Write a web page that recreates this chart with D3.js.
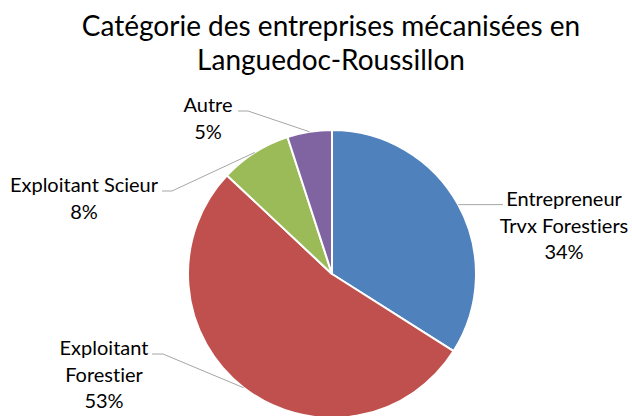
<html>
  <head>
    <meta charset="utf-8" />
    <script src="https://d3js.org/d3.v7.min.js"></script>
  </head>
  <style>
    body { margin: 0; background: #fff; }
    svg { width: 632px; height: 416px; }
    text { font-family: Lato, "Open Sans", sans-serif; fill: #000; font-variant-ligatures: none; }
    .leader { fill: none; stroke: #a6a6a6; stroke-width: 1; }
  </style>
  <body>
    <svg></svg>
    <script>
      // données
      const categories = ["Entrepreneur Trvx Forestiers", "Exploitant Forestier", "Exploitant Scieur", "Autre"];
      const labelLines = [["Entrepreneur", "Trvx Forestiers"], ["Exploitant", "Forestier"], ["Exploitant Scieur"], ["Autre"]];
      const values = [34, 53, 8, 5];
      const colors = ["#4f81bd", "#c0504d", "#9bbb59", "#8064a2"];
      const titleLines = ["Catégorie des entreprises mécanisées en", "Languedoc-Roussillon"];

      const cx = 332, cy = 274, radius = 144;

      // position des étiquettes (ancre du texte, coude de la ligne de rappel)
      const labelPos = [
        { x: 564, y: 205, elbow: null, lineEnd: 503 },
        { x: 104, y: 354, elbow: 163, lineEnd: 152 },
        { x: 84, y: 191, elbow: 172, lineEnd: 162 },
        { x: 208, y: 111, elbow: 248, lineEnd: 238 }
      ];

      const svg = d3.select("svg");

      svg.selectAll("text.title")
        .data(titleLines)
        .enter()
        .append("text")
        .attr("class", "title")
        .attr("x", 331)
        .attr("y", (d, i) => 36 + i * 34)
        .attr("text-anchor", "middle")
        .style("font-size", "28px")
        .text(d => d);

      const pie = d3.pie().sort(null).value(d => d);
      const arcs = pie(values);
      const arc = d3.arc().innerRadius(0).outerRadius(radius);
      const edge = d3.arc().innerRadius(radius).outerRadius(radius);

      const g = svg.append("g").attr("transform", `translate(${cx},${cy})`);

      g.selectAll("path.slice")
        .data(arcs)
        .enter()
        .append("path")
        .attr("class", "slice")
        .attr("d", arc)
        .attr("fill", (d, i) => colors[i])
        .attr("stroke", "#fff")
        .attr("stroke-width", 2)
        .attr("stroke-linejoin", "round");

      const total = d3.sum(values);

      arcs.forEach((d, i) => {
        const p = edge.centroid(d);
        const px = cx + p[0], py = cy + p[1];
        const lp = labelPos[i];
        const pts = lp.elbow === null
          ? [[px, py], [lp.lineEnd, py]]
          : [[px, py], [lp.elbow, lp.y], [lp.lineEnd, lp.y]];
        svg.append("path")
          .attr("class", "leader")
          .attr("d", d3.line()(pts));

        const lines = labelLines[i].concat([Math.round(values[i] / total * 100) + "%"]);
        svg.append("g")
          .selectAll("text")
          .data(lines)
          .enter()
          .append("text")
          .attr("x", lp.x)
          .attr("y", (t, j) => lp.y + 1 + j * 26.5)
          .attr("text-anchor", "middle")
          .style("font-size", "20px")
          .text(t => t);
      });
    </script>
  </body>
</html>
